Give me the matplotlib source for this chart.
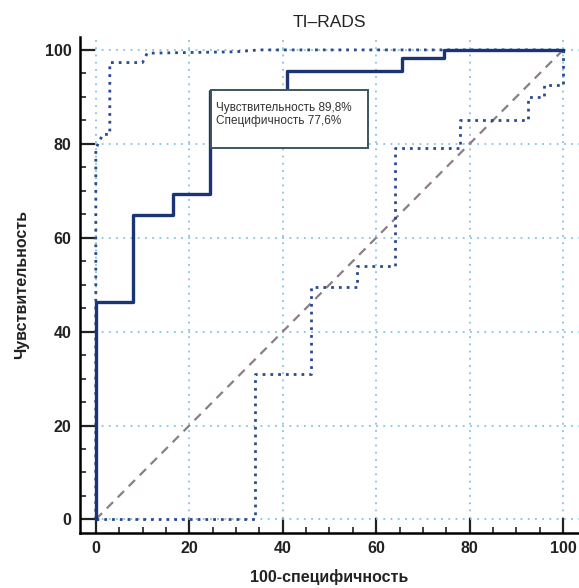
import numpy as np
import matplotlib
matplotlib.use('Agg')
import matplotlib.pyplot as plt
from matplotlib.patches import Rectangle
from matplotlib.ticker import MultipleLocator

plt.rcParams['font.family'] = ['Liberation Sans', 'DejaVu Sans']

# ROC кривая (шаги) и доверительные границы
roc_x = [0, 0, 8, 8, 16.5, 16.5, 24.5, 24.5, 41, 41, 65.5, 65.5, 74.5, 74.5, 100]
roc_y = [0, 46.3, 46.3, 64.8, 64.8, 69.4, 69.4, 91.3, 91.3, 95.6, 95.6, 98.3, 98.3, 100, 100]

upper_x = [0, 0, 1.5, 3, 3, 10, 11, 30, 35, 100]
upper_y = [0, 79, 82, 82, 97.3, 97.3, 99.3, 99.6, 100, 100]

lower_x = [0, 34, 34, 46, 46, 56, 56, 64, 64, 78, 78, 92.5, 92.5, 96, 96, 100, 100]
lower_y = [0, 0, 31, 31, 49.4, 49.4, 54, 54, 79, 79, 85, 85, 90, 90, 92.5, 92.5, 100]

diag = [0, 100]

title = 'TI\u2013RADS'
xlabel = '100-специфичность'
ylabel = 'Чувствительность'
info = 'Чувствительность 89,8%\nСпецифичность 77,6%'
ticks = [0, 20, 40, 60, 80, 100]

fig = plt.figure(figsize=(5.79, 5.88), dpi=100)
ax = fig.add_axes([0.138, 0.0935, 0.862, 0.844])

# диагональ
ax.plot(diag, diag, color='#8c7d88', linewidth=1.6, linestyle=(0, (4, 3)), zorder=2)

# доверительные интервалы
ax.plot(upper_x, upper_y, color='#2b4c8c', linewidth=2, linestyle=(0, (1, 1.8)), zorder=3)
ax.plot(lower_x, lower_y, color='#2b4c8c', linewidth=2, linestyle=(0, (1, 1.8)), zorder=3)

# основная кривая
ax.plot(roc_x, roc_y, color='#1b3473', linewidth=2.4, zorder=4)

# рамка с текстом
ax.add_patch(Rectangle((24.7, 79.1), 33.6, 12.4, facecolor='white',
                       edgecolor='#3d5560', linewidth=1.4, zorder=5))
ax.text(25.8, 89.0, info, fontsize=8.5, color='#333333', va='top', ha='left',
        linespacing=1.2, zorder=6)

ax.set_xlim(-3.4, 103.4)
ax.set_ylim(-2.9, 102.8)
ax.set_xticks(ticks)
ax.set_yticks(ticks)
ax.xaxis.set_minor_locator(MultipleLocator(5))
ax.yaxis.set_minor_locator(MultipleLocator(5))

ax.grid(True, which='major', color='#86c3de', linestyle=(0, (1, 3)), linewidth=1.3)
ax.set_axisbelow(True)

ax.spines['top'].set_color('none')
ax.spines['right'].set_color('none')
ax.spines['left'].set_linewidth(1.8)
ax.spines['bottom'].set_linewidth(1.8)

ax.tick_params(which='major', direction='in', length=11, width=1.6,
               labelsize=11.5, pad=6, colors='#222222')
ax.tick_params(which='minor', direction='in', length=4, width=1.2, colors='#222222')
for lab in ax.get_xticklabels() + ax.get_yticklabels():
    lab.set_fontweight('bold')

ax.set_title(title, fontsize=12.5, pad=7, color='#222222')
ax.set_xlabel(xlabel, fontsize=11.5, fontweight='bold', labelpad=9, color='#222222')
ax.set_ylabel(ylabel, fontsize=11.5, fontweight='bold', labelpad=11, color='#222222')

fig.savefig('out.png', dpi=100)
